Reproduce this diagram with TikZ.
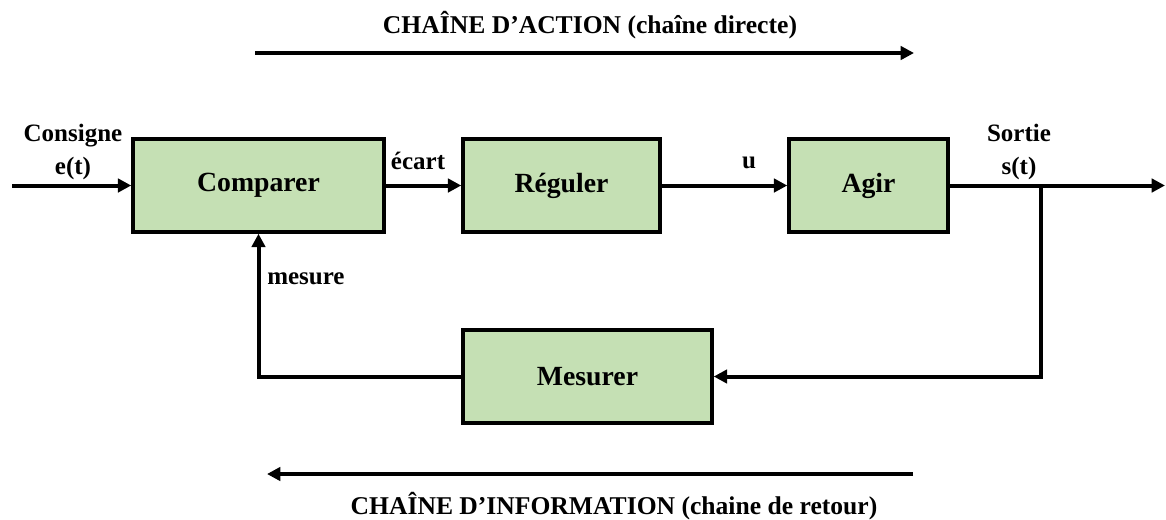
\documentclass[tikz,border=0pt]{standalone}
\usepackage{fontspec}
\setmainfont{Liberation Serif}
\usetikzlibrary{arrows.meta}
\begin{document}
\begin{tikzpicture}[x=0.75pt,y=-0.75pt,
  every node/.style={font=\fontsize{18.75}{23}\selectfont\bfseries},
  block/.style={draw=black,line width=2.6pt,fill=blockgreen,inner sep=0pt,font=\fontsize{20.8}{25}\selectfont\bfseries},
  arr/.style={line width=3pt,-{Triangle[length=10pt,width=10pt]}},
  lbl/.style={inner sep=0pt,align=center},
  ttl/.style={inner sep=0pt,font=\fontsize{19.2}{23}\selectfont\bfseries}]
\definecolor{blockgreen}{HTML}{C5E0B4}
\useasboundingbox (0,0) rectangle (1166,519);
% blocks
\node[block,minimum width=251*0.75pt,minimum height=93*0.75pt] (comp) at (258.5,185.5) {Comparer};
\node[block,minimum width=197*0.75pt,minimum height=93*0.75pt] (reg) at (561.5,185.5) {Réguler};
\node[block,minimum width=159*0.75pt,minimum height=93*0.75pt] (agir) at (868.5,185.5) {Agir};
\node[block,minimum width=249*0.75pt,minimum height=93*0.75pt] (mes) at (587.5,376.5) {Mesurer};
% coordinates
\coordinate (in) at (12,185.5);
\coordinate (out) at (1165,185.5);
\coordinate (br) at (1041,185.5);
% connectors
\draw[arr] (in) -- (comp.west);
\draw[arr] (comp.east) -- (reg.west);
\draw[arr] (reg.east) -- (agir.west);
\draw[arr] (agir.east) -- (out);
\draw[arr] (br) |- (mes.east);
\draw[arr] (mes.west) -| (comp.south);
% labels
\node[lbl] (lcons) at (73,152) {Consigne\\[2pt]e(t)};
\node[lbl] (lecart) at (418,161) {écart};
\node[lbl] (lu) at (749,163) {u};
\node[lbl] (lsort) at (1019,152) {Sortie\\[2pt]s(t)};
\node[lbl,anchor=west] (lmes) at (267,279) {mesure};
% chains
\coordinate (a1) at (255,53);
\coordinate (a2) at (914,53);
\draw[arr] (a1) -- (a2);
\node[ttl] (tact) at (590,25) {CHAÎNE D’ACTION (chaîne directe)};
\coordinate (b1) at (913,474);
\coordinate (b2) at (267,474);
\draw[arr] (b1) -- (b2);
\node[ttl] (tinf) at (614,506) {CHAÎNE D’INFORMATION (chaine de retour)};
\end{tikzpicture}
\end{document}
